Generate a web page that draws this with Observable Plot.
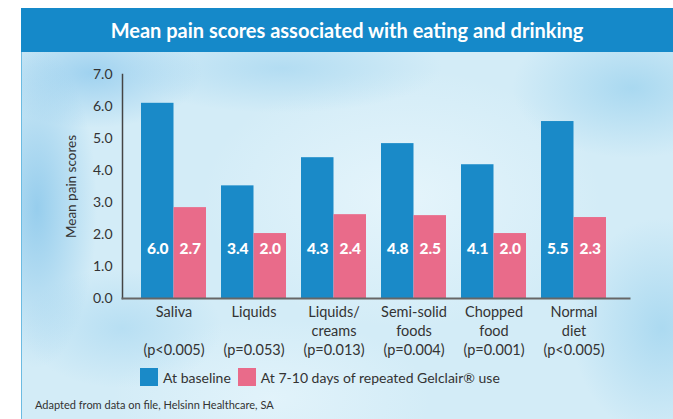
<!DOCTYPE html>
<html><head><meta charset="utf-8">
<script src="https://cdn.jsdelivr.net/npm/d3@7"></script>
<script src="https://cdn.jsdelivr.net/npm/@observablehq/plot@0.6"></script>
<style>
body{margin:0;background:#fff;font-family:Lato,"Open Sans",sans-serif;}
#wrap{position:relative;width:673px;height:419px;overflow:hidden;background:#fff;}
#panel{position:absolute;left:21px;top:8px;right:0;bottom:0;border-left:1px solid #6cbbe2;
background:
 radial-gradient(ellipse 60px 160px at 15px 200px, rgba(140,200,235,0.85), rgba(140,200,235,0) 100%),
 radial-gradient(ellipse 110px 55px at 70px 65px, rgba(150,205,238,0.85), rgba(150,205,238,0) 100%),
 radial-gradient(ellipse 160px 45px at 260px 60px, rgba(165,214,240,0.7), rgba(165,214,240,0) 100%),
 radial-gradient(ellipse 120px 70px at 610px 80px, rgba(155,210,238,0.75), rgba(155,210,238,0) 100%),
 radial-gradient(ellipse 90px 110px at 640px 320px, rgba(155,210,238,0.7), rgba(155,210,238,0) 100%),
 radial-gradient(ellipse 100px 60px at 100px 320px, rgba(165,214,240,0.6), rgba(165,214,240,0) 100%),
 radial-gradient(ellipse 200px 130px at 380px 190px, rgba(232,246,252,0.85), rgba(232,246,252,0) 100%),
 radial-gradient(ellipse 160px 80px at 250px 390px, rgba(228,244,251,0.85), rgba(228,244,251,0) 100%),
 #d3ecf7;}
#title{position:absolute;left:21px;top:8px;right:0;height:44px;background:#1589c9;color:#fff;
 font-weight:700;font-size:20px;display:flex;align-items:center;justify-content:center;}
#chart{position:absolute;left:0;top:52px;}
#legend{position:absolute;top:367px;left:140px;}
.lg-swatches{font-family:Lato,sans-serif!important;font-size:14px!important;color:#333!important;min-height:20px!important;margin:0!important;}
.lg-swatch{margin-right:7px!important;}
.lg-swatch > svg{margin-right:5px!important;}
#caption{position:absolute;left:35px;top:398px;font-size:11px;color:#333;}
</style></head>
<body>
<div id="wrap">
 <div id="panel"></div>
 <div id="title">Mean pain scores associated with eating and drinking</div>
 <div id="chart"></div>
 <div id="legend"></div>
 <div id="caption">Adapted from data on file, Helsinn Healthcare, SA</div>
</div>
<script>
const categories = ["Saliva", "Liquids", "Liquids/creams", "Semi-solid foods", "Chopped food", "Normal diet"];
const categoryLines = [["Saliva"], ["Liquids"], ["Liquids/", "creams"], ["Semi-solid", "foods"], ["Chopped", "food"], ["Normal", "diet"]];
const pValues = ["(p<0.005)", "(p=0.053)", "(p=0.013)", "(p=0.004)", "(p=0.001)", "(p<0.005)"];
const seriesNames = ["At baseline", "At 7-10 days of repeated Gelclair® use"];
const baselineBars = [6.10, 3.52, 4.40, 4.84, 4.18, 5.53];
const followupBars = [2.84, 2.03, 2.62, 2.59, 2.03, 2.53];
const baselineLabels = ["6.0", "3.4", "4.3", "4.8", "4.1", "5.5"];
const followupLabels = ["2.7", "2.0", "2.4", "2.5", "2.0", "2.3"];
const yTicks = [0, 1, 2, 3, 4, 5, 6, 7];
const colors = ["#1a8ac8", "#e96b8a"];
const labelLevel = 1.55;

const baseRows = categories.map((c, i) => ({cat: c, series: seriesNames[0], v: baselineBars[i], label: baselineLabels[i]}));
const followRows = categories.map((c, i) => ({cat: c, series: seriesNames[1], v: followupBars[i], label: followupLabels[i]}));

const tickText = c => {
  const i = categories.indexOf(c);
  const lines = categoryLines[i].slice();
  while (lines.length < 2) lines.push("\u00a0");
  return [...lines, pValues[i]].join("\n");
};

const half = 32.5;
const labelStyle = {y: () => labelLevel, text: "label", fill: "white", fontWeight: "900", fontSize: 15.5};

const plot = Plot.plot({
  width: 673, height: 310,
  marginTop: 22, marginBottom: 64, marginLeft: 122, marginRight: 44,
  style: {background: "transparent", fontFamily: "Lato, sans-serif", color: "#333"},
  x: {domain: categories, paddingInner: 0.19, paddingOuter: 0.256, align: 0.46, label: null, axis: null},
  y: {domain: [0, 7], axis: null},
  color: {domain: seriesNames, range: colors},
  marks: [
    Plot.barY(baseRows, {x: "cat", y: "v", fill: "series", insetRight: half}),
    Plot.barY(followRows, {x: "cat", y: "v", fill: "series", insetLeft: half}),
    Plot.text(baseRows, {x: "cat", dx: -half / 2, ...labelStyle}),
    Plot.text(followRows, {x: "cat", dx: half / 2, ...labelStyle}),
    Plot.axisY({ticks: yTicks, tickFormat: d => d.toFixed(1), tickSize: 0, tickPadding: 10, fontSize: 14, label: null}),
    Plot.axisY({ticks: [], fontSize: 13.5, label: "Mean pain scores", labelAnchor: "center", labelArrow: "none", labelOffset: 56}),
    Plot.axisX({anchor: "bottom", tickSize: 0, tickPadding: 5, tickFormat: tickText, lineHeight: 1.32, fontSize: 14.5, label: null}),
    Plot.frame({anchor: "left", stroke: "#444", strokeWidth: 1.5}),
    Plot.frame({anchor: "bottom", stroke: "#666", strokeWidth: 2})
  ]
});
document.getElementById("chart").appendChild(plot);

const legend = plot.legend("color", {className: "lg", swatchSize: 18});
document.getElementById("legend").appendChild(legend);
</script>
</body></html>
